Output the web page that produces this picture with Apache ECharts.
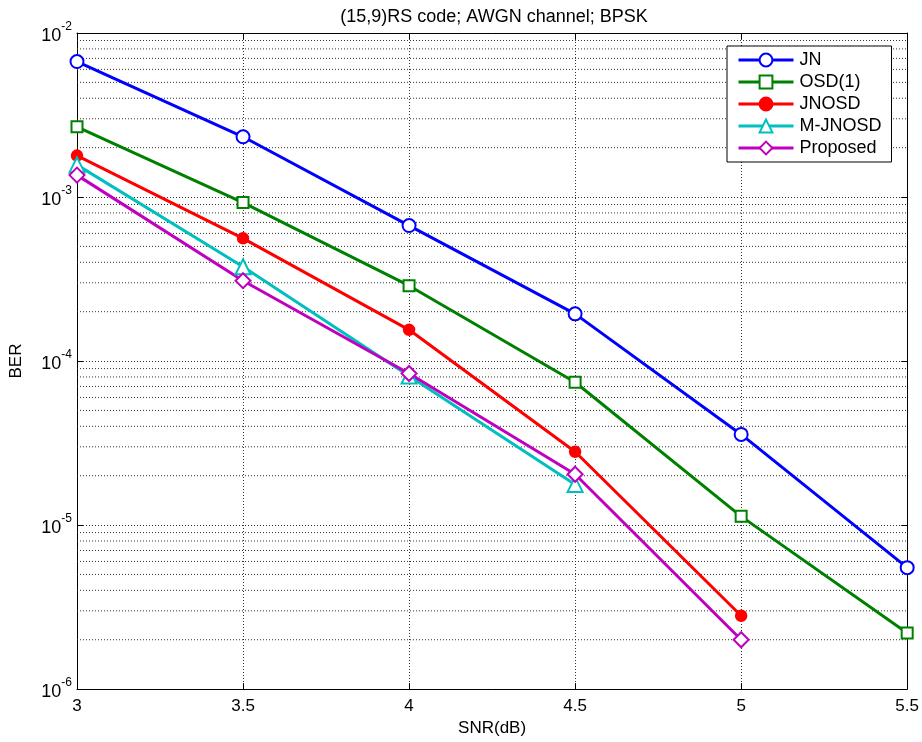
<!DOCTYPE html>
<html>
<head>
<meta charset="utf-8">
<script src="https://cdn.jsdelivr.net/npm/echarts@6/dist/echarts.min.js"></script>
<style>
html,body{margin:0;padding:0;background:#fff;}
#chart{width:922px;height:742px;}
</style>
</head>
<body>
<div id="chart"></div>
<script>
// SNR points (dB)
const snr = [3, 3.5, 4, 4.5, 5, 5.5];
const xTicks = ['3', '3.5', '4', '4.5', '5', '5.5'];

// BER per decoder
const berJN       = [6.7e-3, 2.33e-3, 6.7e-4, 1.94e-4, 3.57e-5, 5.5e-6];
const berOSD1     = [2.68e-3, 9.25e-4, 2.88e-4, 7.43e-5, 1.13e-5, 2.2e-6];
const berJNOSD    = [1.79e-3, 5.6e-4, 1.55e-4, 2.8e-5, 2.8e-6];
const berMJNOSD   = [1.57e-3, 3.76e-4, 8.1e-5, 1.77e-5];
const berProposed = [1.36e-3, 3.09e-4, 8.4e-5, 2.04e-5, 2.0e-6];

const seriesNames = ['JN', 'OSD(1)', 'JNOSD', 'M-JNOSD', 'Proposed'];

// minor decade grid lines (2..9 x 10^k)
const minorGrid = [];
for (let e = -6; e <= -3; e++) {
  for (let m = 2; m <= 9; m++) minorGrid.push(m * Math.pow(10, e));
}

const FONT = 'Liberation Sans';
const pairs = (ys) => ys.map((y, i) => [snr[i], y]);
const gridLine = { color: '#333', width: 1, type: [1, 2] };

function makeSeries(name, data, color, symbol, size) {
  return {
    name: name,
    type: 'line',
    data: pairs(data),
    symbol: symbol,
    symbolSize: size,
    showAllSymbol: true,
    lineStyle: { color: color, width: 3 },
    itemStyle: { color: color, borderColor: color, borderWidth: 2.5 },
    z: 5
  };
}

// one dotted horizontal line per minor value, spanning the x range
const minorSeries = minorGrid.map((v) => ({
  type: 'line',
  data: [[snr[0], v], [snr[snr.length - 1], v]],
  symbol: 'none', silent: true, z: 1,
  lineStyle: gridLine,
  emphasis: { disabled: true },
  tooltip: { show: false }
}));

const chart = echarts.init(document.getElementById('chart'), null, { renderer: 'canvas' });
chart.setOption({
  animation: false,
  backgroundColor: '#fff',
  textStyle: { fontFamily: FONT },
  title: {
    text: '(15,9)RS code; AWGN channel; BPSK',
    left: 489, top: 3, textAlign: 'center',
    textStyle: { fontFamily: FONT, fontSize: 18, fontWeight: 'normal', color: '#000' }
  },
  grid: { left: 75, right: 14, top: 33, bottom: 52 },
  legend: {
    data: seriesNames,
    orient: 'vertical',
    left: 727, top: 46,
    padding: [5, 10, 5, 10],
    itemWidth: 55, itemHeight: 16, itemGap: 4,
    backgroundColor: '#fff',
    borderColor: '#000', borderWidth: 1, borderRadius: 0,
    lineStyle: { width: 3 },
    textStyle: { fontFamily: FONT, fontSize: 18, lineHeight: 16, color: '#000', padding: [0, 0, 0, 1] }
  },
  xAxis: [{
    type: 'value', min: 3, max: 5.5, interval: 0.5,
    name: 'SNR(dB)', nameLocation: 'middle', nameGap: 30,
    nameTextStyle: { fontFamily: FONT, fontSize: 17, color: '#000' },
    axisLine: { show: true, onZero: false, lineStyle: { color: '#000', width: 1 } },
    axisTick: { show: true, inside: true, length: 6, lineStyle: { color: '#000' } },
    axisLabel: { fontFamily: FONT, fontSize: 17, color: '#000', margin: 9,
      formatter: (v) => xTicks[snr.indexOf(v)] !== undefined ? xTicks[snr.indexOf(v)] : String(v) },
    splitLine: { show: true, lineStyle: gridLine }
  }, {
    type: 'value', min: 3, max: 5.5, interval: 0.5, position: 'top',
    axisLine: { show: true, onZero: false, lineStyle: { color: '#000', width: 1 } },
    axisTick: { show: true, inside: true, length: 6, lineStyle: { color: '#000' } },
    axisLabel: { show: false }, splitLine: { show: false }
  }],
  yAxis: [{
    type: 'log', logBase: 10, min: 1e-6, max: 1e-2,
    name: 'BER', nameLocation: 'middle', nameGap: 52, nameRotate: 90,
    nameTextStyle: { fontFamily: FONT, fontSize: 17, color: '#000' },
    axisLine: { show: true, onZero: false, lineStyle: { color: '#000', width: 1 } },
    axisTick: { show: true, inside: true, length: 6, lineStyle: { color: '#000' } },
    axisLabel: {
      margin: 5,
      formatter: (v) => '{b|10}{s|' + Math.round(Math.log10(v)) + '}',
      rich: {
        b: { fontFamily: FONT, fontSize: 18, color: '#000', lineHeight: 24, verticalAlign: 'bottom' },
        s: { fontFamily: FONT, fontSize: 12, color: '#000', lineHeight: 24, verticalAlign: 'top' }
      }
    },
    splitLine: { show: true, lineStyle: gridLine }
  }, {
    type: 'log', logBase: 10, min: 1e-6, max: 1e-2, position: 'right',
    axisLine: { show: true, onZero: false, lineStyle: { color: '#000', width: 1 } },
    axisTick: { show: true, inside: true, length: 6, lineStyle: { color: '#000' } },
    axisLabel: { show: false }, splitLine: { show: false }
  }],
  series: minorSeries.concat([
    makeSeries('JN', berJN, '#0000ff', 'emptyCircle', 13),
    makeSeries('OSD(1)', berOSD1, '#008000', 'emptyRect', 11),
    makeSeries('JNOSD', berJNOSD, '#ff0000', 'circle', 10),
    makeSeries('M-JNOSD', berMJNOSD, '#00bfbf', 'emptyTriangle', 15),
    makeSeries('Proposed', berProposed, '#bf00bf', 'emptyDiamond', 15)
  ])
});
</script>
</body>
</html>
